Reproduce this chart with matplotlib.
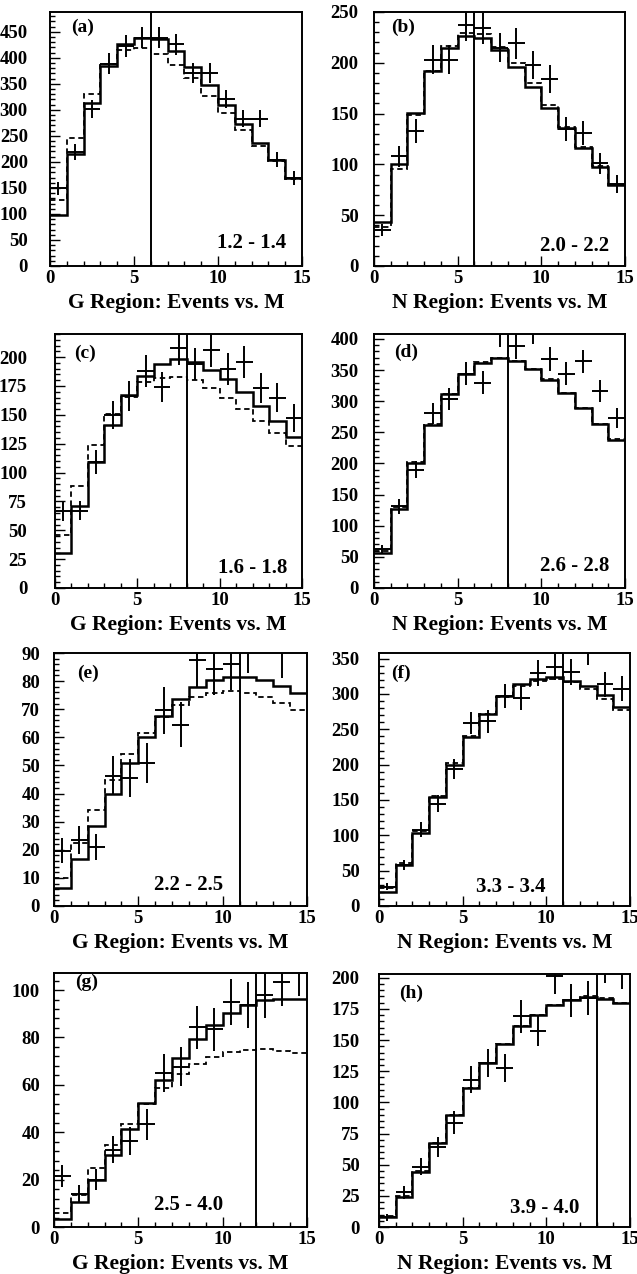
import numpy as np
import matplotlib
matplotlib.use("Agg")
import matplotlib.pyplot as plt
from matplotlib.ticker import MultipleLocator

plt.rcParams['font.family'] = ['Liberation Serif', 'DejaVu Serif']
plt.rcParams['font.weight'] = 'bold'

edges = np.arange(0, 16)
centers = edges[:-1] + 0.5

# ---- data ----
panel_ids = ['(a)', '(b)', '(c)', '(d)', '(e)', '(f)', '(g)', '(h)']
ranges = ['1.2 - 1.4', '2.0 - 2.2', '1.6 - 1.8', '2.6 - 2.8',
          '2.2 - 2.5', '3.3 - 3.4', '2.5 - 4.0', '3.9 - 4.0']
xlabels = ['G Region: Events vs. M', 'N Region: Events vs. M'] * 4
cut_m = [6, 6, 8, 8, 11, 11, 12, 13]

solid_a = [98, 216, 313, 385, 426, 438, 437, 413, 383, 347, 310, 272, 237, 204, 169]
dash_a = [126, 245, 330, 389, 415, 418, 408, 387, 362, 327, 294, 261, 231, 202, 168]
data_a = [149, 219, 302, 389, 423, 439, 439, 426, 371, 370, 321, 283, 283, 204, 169]

solid_b = [43, 100, 151, 192, 215, 226, 224, 213, 196, 176, 156, 136, 116, 97.5, 79.5]
dash_b = [38, 95, 149, 192, 217, 229, 228, 216, 200, 180, 158, 137, 117, 98.5, 80]
data_b = [35, 108, 133, 203, 203, 237, 234, 215, 219, 198, 184, 135, 131, 101, 81]

solid_c = [30, 71, 109, 141, 167, 184, 194, 198, 196, 189, 181, 170, 157.5, 144.5, 131]
dash_c = [45.7, 88.7, 123.7, 151, 165.6, 178, 182, 183, 180, 173, 165, 155, 145, 134, 123]
data_c = [66.5, 67, 109, 150, 166, 188, 174, 207.5, 194, 206, 190, 196, 173, 165, 147]

solid_d = [56, 127, 200, 262, 311.5, 343.7, 362, 369, 365, 351, 334, 313, 288.5, 263, 238]
dash_d = [60, 129.5, 203, 263, 311, 344, 363, 370, 365, 352, 336, 314, 288.5, 264, 239]
data_d = [62, 131, 190, 280.5, 303.5, 344, 330, 408, 388, 413, 368, 344, 364, 317, 273]

solid_e = [6.5, 16.6, 28.3, 39.8, 50.8, 60, 67.7, 73.6, 77.8, 80.3, 81.5, 81.5, 80.3, 78.1, 75.8]
dash_e = [9.9, 22.3, 34, 44.9, 54, 61.5, 67.2, 71.6, 74.3, 75.8, 76.4, 75.8, 74.2, 72.2, 69.6]
data_e = [19.7, 23.5, 20.9, 46.4, 45.7, 50.8, 69.6, 64.5, 87.4, 84.3, 86.2, 92.5, 103, 90.5, 102]

solid_f = [20.3, 58, 103, 153.7, 200, 239, 272, 297, 313.6, 321.7, 324, 319, 311, 298.5, 281.5]
dash_f = [25, 60.5, 105.5, 156, 202.5, 240, 271, 295.6, 311, 319, 321.7, 317, 307.5, 293, 278]
data_f = [27.4, 58, 108, 144.7, 194, 259, 261.6, 297, 294.7, 330, 338, 331.6, 360, 313.6, 307.5]

solid_g = [3.5, 10.6, 20, 30.3, 41.2, 52.2, 62, 71.5, 79.3, 85.3, 90.3, 93.8, 95.6, 96.3, 96.2]
dash_g = [5.9, 13.7, 25, 34.6, 43.3, 51.8, 58.5, 64.5, 68.7, 71.6, 73.8, 74.8, 75, 74.3, 73.6]
data_g = [21.4, 14.1, 20, 32.7, 36.2, 43.4, 64.9, 67.7, 84.2, 83.5, 95, 93.8, 98, 103.4, 108]

solid_h = [8, 24.2, 44.3, 67, 90, 111.4, 131.6, 147, 161, 170.5, 177.8, 181.8, 184.5, 183, 179.4]
dash_h = [8.5, 25, 45, 67.5, 90, 111.4, 131.6, 147, 161, 170.5, 177.8, 181.8, 185, 183.5, 179.4]
data_h = [8, 27.7, 48.3, 64.4, 83.8, 118, 131.6, 127.5, 169, 157.6, 201, 181.8, 184, 210, 205]

solids = [solid_a, solid_b, solid_c, solid_d, solid_e, solid_f, solid_g, solid_h]
dashes = [dash_a, dash_b, dash_c, dash_d, dash_e, dash_f, dash_g, dash_h]
datas = [data_a, data_b, data_c, data_d, data_e, data_f, data_g, data_h]

ytops = [488, 250, 220, 408, 90, 358, 107.2, 203]
ymajor = [50, 50, 25, 50, 10, 50, 20, 25]
yminor = [10, 10, 5, 10, 2, 10, 4, 5]

# ---- layout (pixel boxes: left, right, top, bottom) ----
W, H = 637, 1274
boxes = [(50, 302, 12, 266), (374, 625, 12, 266),
         (55, 302, 334, 588), (374, 625, 334, 588),
         (54, 307, 653, 906), (379, 630, 653, 906),
         (54, 307, 973, 1227), (379, 630, 974, 1227)]
ypads = [16, 11, 20, 11, 10, 14, 10, 14]
range_pos = [(0.80, 0.09), (0.80, 0.08), (0.80, 0.08), (0.80, 0.085),
             (0.53, 0.083), (0.526, 0.075), (0.53, 0.087), (0.66, 0.075)]
id_pos = [(0.13, 0.94), (0.115, 0.94), (0.12, 0.925), (0.127, 0.926),
          (0.135, 0.92), (0.088, 0.92), (0.13, 0.962), (0.127, 0.925)]

fig = plt.figure(figsize=(W / 100, H / 100), dpi=100)
fig.patch.set_facecolor('white')

for i in range(8):
    l, r, t, b = boxes[i]
    ax = fig.add_axes([l / W, 1 - b / H, (r - l) / W, (b - t) / H])
    ax.stairs(solids[i], edges, baseline=None, color='black', lw=1.8)
    ax.stairs(dashes[i], edges, baseline=None, color='black', lw=1.3,
              linestyle=(0, (3, 2)))
    d = np.array(datas[i], dtype=float)
    ax.errorbar(centers, d, xerr=0.5, yerr=np.sqrt(d), fmt='none',
                ecolor='black', elinewidth=1.4, capsize=0)
    ax.axvline(cut_m[i], color='black', lw=1.4)
    ax.set_xlim(0, 15)
    ax.set_ylim(0, ytops[i])
    ax.xaxis.set_major_locator(MultipleLocator(5))
    ax.xaxis.set_minor_locator(MultipleLocator(1))
    ax.yaxis.set_major_locator(MultipleLocator(ymajor[i]))
    ax.yaxis.set_minor_locator(MultipleLocator(yminor[i]))
    ax.tick_params(which='both', direction='in', top=False, right=False,
                   labelsize=13.5, width=1.0)
    ax.tick_params(which='major', length=7)
    ax.tick_params(which='minor', length=3.5)
    ax.tick_params(axis='x', which='major', pad=3)
    ax.tick_params(axis='y', which='major', pad=ypads[i])
    for lab in ax.get_xticklabels() + ax.get_yticklabels():
        lab.set_fontweight('bold')
    for sp in ax.spines.values():
        sp.set_linewidth(1.4)
    ax.set_xlabel(xlabels[i], fontsize=15.5, fontweight='bold', labelpad=4)
    ax.text(*id_pos[i], panel_ids[i], transform=ax.transAxes, fontsize=14,
            fontweight='bold', ha='center', va='center')
    ax.text(*range_pos[i], ranges[i], transform=ax.transAxes, fontsize=15,
            fontweight='bold', ha='center', va='center')

fig.savefig('out.png', dpi=100, facecolor='white')
